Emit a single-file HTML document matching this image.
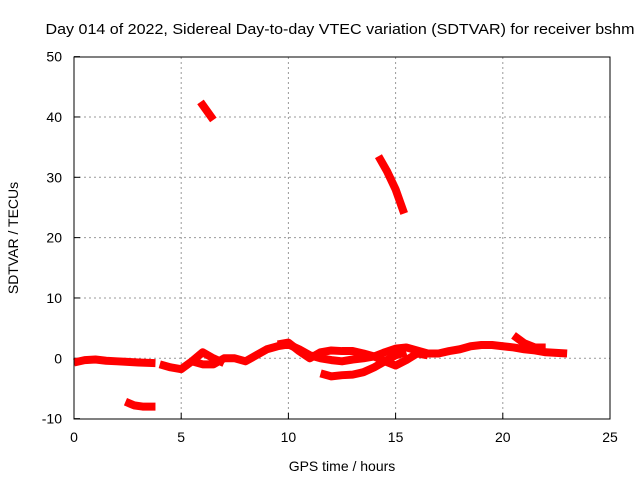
<!DOCTYPE html>
<html><head><meta charset="utf-8"><style>
body{margin:0;background:#fff}
svg{display:block;font-family:"Liberation Sans",sans-serif;font-size:14px}
</style></head><body>
<svg id="chart" width="640" height="480">
<text x="340" y="34" text-anchor="middle" textLength="589" lengthAdjust="spacingAndGlyphs" style="font-size:15px">Day 014 of 2022, Sidereal Day-to-day VTEC variation (SDTVAR) for receiver bshm</text>
<text x="342" y="471" text-anchor="middle">GPS time / hours</text>
<text transform="translate(18,238) rotate(-90)" text-anchor="middle">SDTVAR / TECUs</text>
<g id="grid"></g>
<g id="ticks"></g>
<g id="series"></g>
<rect x="74" y="57" width="536" height="362" fill="none" stroke="#000" stroke-width="1"/>
</svg>
<script>
const xTicks=[0,5,10,15,20,25];
const yTicks=[-10,0,10,20,30,40,50];
const trackA=[[0,-0.7],[0.5,-0.3],[1,-0.2],[1.5,-0.4],[2,-0.5],[2.5,-0.6],[3,-0.7],[3.8,-0.8]];
const trackB=[[2.4,-7.2],[2.8,-7.8],[3.2,-8],[3.8,-8]];
const trackC=[[4,-1],[4.5,-1.5],[5,-1.8],[5.5,-0.5],[6,1],[6.5,0],[7,-0.8]];
const trackD=[[5.5,-0.5],[6,-1],[6.5,-1],[7,0],[7.5,0],[8,-0.5],[8.5,0.5],[9,1.5],[9.5,2],[10,2.3],[10.5,1.5],[11,0.5],[11.5,0],[12,-0.3],[12.5,-0.5],[13,-0.2],[13.5,0],[14,0.3],[14.5,1],[15,1.6],[15.5,1.8],[16,1.3],[16.5,0.8],[17,0.8],[17.5,1.2],[18,1.5],[18.5,2],[19,2.2],[19.5,2.2],[20,2],[20.5,1.8],[21,1.5],[21.5,1.3],[22,1],[22.5,0.9],[23,0.8]];
const trackE=[[9.5,2.3],[10,2.6],[10.5,1.2],[11,0],[11.5,1],[12,1.3],[12.5,1.2],[13,1.2],[13.5,0.8],[14,0.3],[14.5,-0.5],[15,-1.2],[15.5,-0.3],[16,0.8],[16.5,0.5]];
const trackF=[[11.5,-2.5],[12,-3],[12.5,-2.8],[13,-2.7],[13.5,-2.3],[14,-1.5],[14.5,-0.5],[15,0.5],[15.5,1]];
const trackG=[[20.5,3.8],[21,2.5],[21.5,1.8],[22,1.8]];
const trackH=[[5.9,42.5],[6.2,41],[6.5,39.5]];
const trackI=[[14.2,33.5],[14.6,31],[15,28],[15.4,24]];
const tracks=[trackA,trackB,trackC,trackD,trackE,trackF,trackG,trackH,trackI];
const X=v=>74+v*(536/25);
const Y=v=>358.3-v*(362/60);
const NS="http://www.w3.org/2000/svg";
const grid=document.getElementById('grid'),ticks=document.getElementById('ticks'),ser=document.getElementById('series');
function mk(tag,attrs,parent){const e=document.createElementNS(NS,tag);for(const k in attrs)e.setAttribute(k,attrs[k]);parent.appendChild(e);return e;}
xTicks.forEach(t=>{
  const x=X(t);
  if(t>0&&t<25){const g=mk('line',{x1:x,x2:x,y1:57,y2:419,stroke:'#999','stroke-dasharray':'2,3'},grid);
  
  }
  const l=mk('line',{x1:x,x2:x,y1:419,y2:413,stroke:'#000'},ticks);
  
  
  const tx=mk('text',{x:x,y:442,'text-anchor':'middle'},ticks);tx.textContent=t;
  
  
});
yTicks.forEach(t=>{
  const y=Y(t);
  if(t>-10&&t<50){const g=mk('line',{x1:74,x2:610,y1:y,y2:y,stroke:'#999','stroke-dasharray':'2,3'},grid);
  
  }
  const l=mk('line',{x1:74,x2:80,y1:y,y2:y,stroke:'#000'},ticks);
  
  
  const tx=mk('text',{x:62,y:y+5,'text-anchor':'end'},ticks);tx.textContent=t;
  
  
});
tracks.forEach(tr=>{
  const p=mk('polyline',{points:tr.map(d=>X(d[0])+','+Y(d[1])).join(' '),fill:'none',stroke:'#f00','stroke-width':8,'stroke-linejoin':'round','stroke-linecap':'butt'},ser);
  
  
});
</script>
</body></html>
